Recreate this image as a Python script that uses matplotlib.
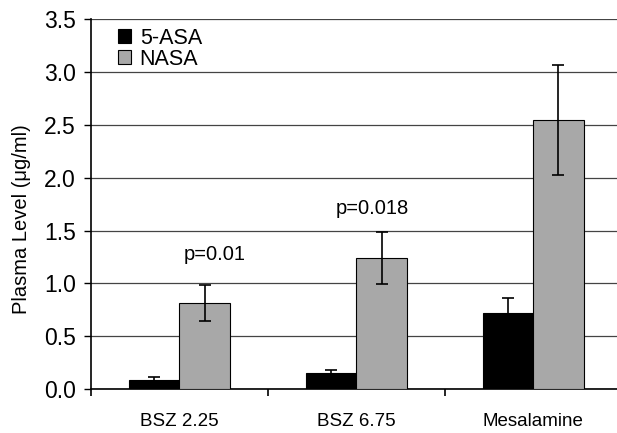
import matplotlib
matplotlib.use("Agg")
import matplotlib.pyplot as plt
import numpy as np

# data
groups = ["BSZ 2.25", "BSZ 6.75", "Mesalamine"]
asa_mean = [0.09, 0.15, 0.72]
asa_err = [0.02, 0.03, 0.14]
nasa_mean = [0.81, 1.24, 2.55]
nasa_err = [0.17, 0.25, 0.52]
p_labels = ["p=0.01", "p=0.018"]
p_heights = [1.27, 1.71]

plt.rcParams['font.family'] = ['Liberation Sans', 'DejaVu Sans']

fig = plt.figure(figsize=(6.17, 4.33), dpi=100)
ax = fig.add_axes([0.1475, 0.1016, 0.86, 0.8538])

x = np.arange(len(groups))
w = 0.285
err_kw = dict(ecolor='black', elinewidth=1.2, capsize=4, capthick=1.2)

ax.bar(x - w / 2, asa_mean, w, yerr=asa_err, color='black', edgecolor='black',
       linewidth=0.8, error_kw=err_kw, label="5-ASA", zorder=3)
ax.bar(x + w / 2, nasa_mean, w, yerr=nasa_err, color='#a8a8a8', edgecolor='black',
       linewidth=0.8, error_kw=err_kw, label="NASA", zorder=3)

# p-value annotations above the first two NASA bars
ax.text(x[0] + 0.2, p_heights[0], p_labels[0], ha='center', va='center', fontsize=14.5)
ax.text(x[1] + 0.09, p_heights[1], p_labels[1], ha='center', va='center', fontsize=14.5)

ax.set_xlim(-0.5, 2.49)
ax.set_ylim(0, 3.5)
ax.set_yticks(np.arange(0, 3.51, 0.5))
ax.set_yticklabels(["%.1f" % v for v in np.arange(0, 3.51, 0.5)])
ax.set_xticks(x)
ax.set_xticklabels(groups)
ax.set_xticks([-0.5, 0.5, 1.5, 2.5], minor=True)
ax.tick_params(axis='x', which='major', length=0, pad=17, labelsize=13.5)
ax.tick_params(axis='x', which='minor', length=5, width=1.2, direction='out')
ax.tick_params(axis='y', length=5, width=1.0, pad=6, labelsize=16.5)

ax.yaxis.grid(True, color='#444444', linewidth=0.9)
ax.set_axisbelow(True)
for s in ['top', 'right']:
    ax.spines[s].set_visible(False)
ax.spines['left'].set_linewidth(1.2)
ax.spines['bottom'].set_linewidth(1.2)

ax.set_ylabel("Plasma Level (\u03bcg/ml)", fontsize=14.5)
ax.yaxis.set_label_coords(-0.113, 0.46)

ax.legend(loc='upper left', bbox_to_anchor=(0.035, 1.0), frameon=False,
          fontsize=15.5, handlelength=0.6, handleheight=0.6, handletextpad=0.4,
          labelspacing=0.0, borderaxespad=0)

fig.savefig("out.png", dpi=100)
